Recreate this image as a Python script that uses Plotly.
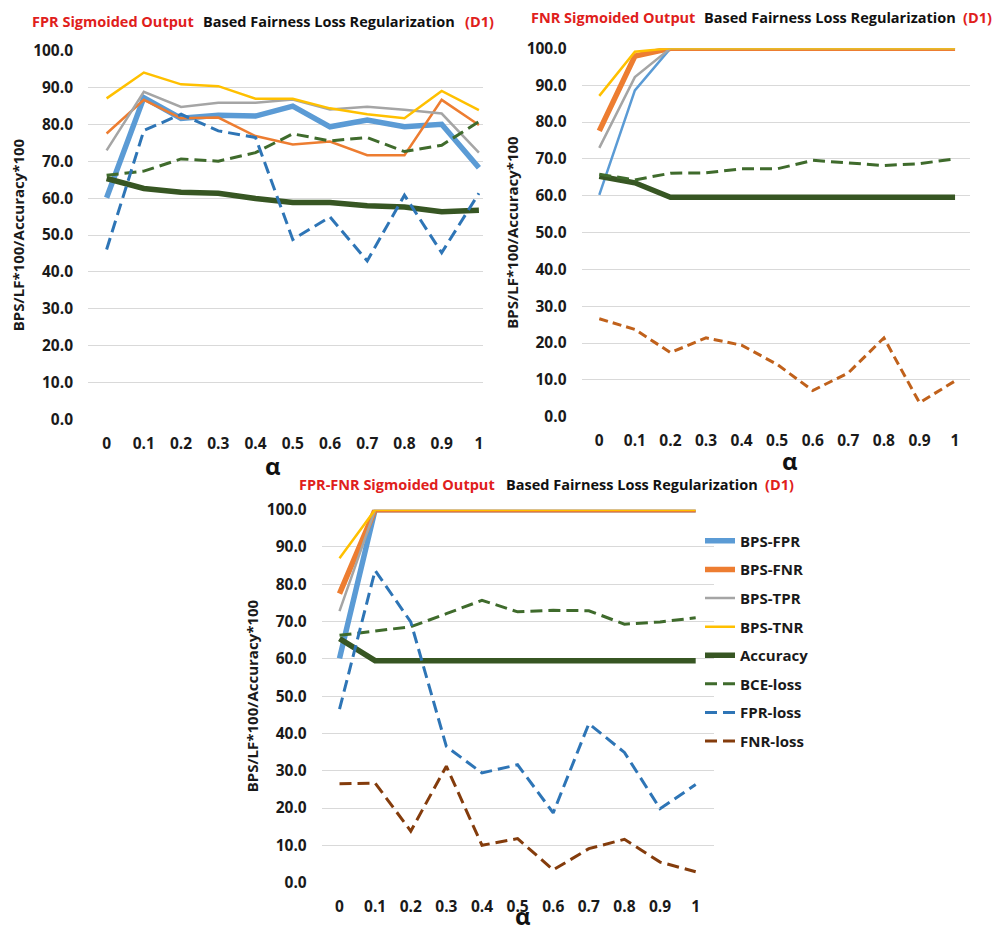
import plotly.graph_objects as go

# ---------------- data ----------------
alpha_labels = ["0", "0.1", "0.2", "0.3", "0.4", "0.5", "0.6", "0.7", "0.8", "0.9", "1"]
y_ticks = [0, 10, 20, 30, 40, 50, 60, 70, 80, 90, 100]

# Chart 1: FPR sigmoided output
c1_bps_fpr = [60.1, 87.2, 81.6, 82.4, 82.2, 84.9, 79.3, 81.1, 79.3, 80.0, 68.2]
c1_bps_fnr = [77.5, 86.6, 81.6, 81.8, 76.8, 74.5, 75.3, 71.6, 71.6, 86.6, 79.8]
c1_bps_tpr = [72.9, 88.8, 84.7, 85.8, 85.8, 86.7, 84.0, 84.7, 83.9, 82.9, 72.3]
c1_bps_tnr = [87.0, 94.0, 90.8, 90.3, 86.9, 86.9, 84.3, 82.7, 81.6, 89.0, 83.8]
c1_accuracy = [65.3, 62.6, 61.6, 61.3, 59.9, 58.8, 58.8, 57.9, 57.6, 56.3, 56.7]
c1_bce_loss = [66.2, 67.3, 70.6, 70.0, 72.3, 77.4, 75.5, 76.4, 72.6, 74.3, 80.7]
c1_fpr_loss = [46.1, 78.3, 82.7, 78.2, 76.4, 48.8, 54.9, 43.0, 60.8, 45.2, 61.3]

# Chart 2: FNR sigmoided output
c2_bps_fpr = [60.2, 88.6, 100, 100, 100, 100, 100, 100, 100, 100, 100]
c2_bps_fnr = [77.6, 97.9, 100, 100, 100, 100, 100, 100, 100, 100, 100]
c2_bps_tpr = [73.0, 92.2, 100, 100, 100, 100, 100, 100, 100, 100, 100]
c2_bps_tnr = [87.1, 99.1, 100, 100, 100, 100, 100, 100, 100, 100, 100]
c2_accuracy = [65.3, 63.5, 59.6, 59.6, 59.6, 59.6, 59.6, 59.6, 59.6, 59.6, 59.6]
c2_bce_loss = [65.8, 64.3, 66.1, 66.2, 67.3, 67.3, 69.6, 69.0, 68.2, 68.7, 70.0]
c2_fnr_loss = [26.6, 23.7, 17.4, 21.4, 19.4, 14.2, 7.1, 11.9, 21.4, 3.8, 9.7]

# Chart 3: FPR-FNR sigmoided output
c3_bps_fpr = [60.1, 100, 100, 100, 100, 100, 100, 100, 100, 100, 100]
c3_bps_fnr = [77.5, 100, 100, 100, 100, 100, 100, 100, 100, 100, 100]
c3_bps_tpr = [72.8, 100, 100, 100, 100, 100, 100, 100, 100, 100, 100]
c3_bps_tnr = [87.0, 100, 100, 100, 100, 100, 100, 100, 100, 100, 100]
c3_accuracy = [65.4, 59.5, 59.5, 59.5, 59.5, 59.5, 59.5, 59.5, 59.5, 59.5, 59.5]
c3_bce_loss = [66.3, 67.4, 68.6, 72.1, 75.7, 72.6, 73.0, 72.9, 69.3, 69.9, 71.0]
c3_fpr_loss = [46.5, 83.7, 69.9, 36.5, 29.4, 31.6, 18.7, 42.6, 34.9, 19.8, 26.3]
c3_fnr_loss = [26.5, 26.7, 13.8, 31.2, 10.0, 11.8, 3.4, 9.1, 11.6, 5.5, 2.9]

# ---------------- styles ----------------
COL = {
    "BPS-FPR": "#5B9BD5",
    "BPS-FNR": "#ED7D31",
    "BPS-TPR": "#A5A5A5",
    "BPS-TNR": "#FFC000",
    "Accuracy": "#375623",
    "BCE-loss": "#3F6B2C",
    "FPR-loss": "#2E75B6",
    "FNR-loss": "#843C0C",
}
FNR_LOSS_C2 = "#C0611B"
DASH = "12px,6px"
FONT = "Open Sans"
W = 993
H = 932

fig = go.Figure()


def add(name, y, ax, width, dash=None, legend=False, color=None):
    fig.add_trace(go.Scatter(
        x=alpha_labels, y=y, mode="lines", name=name,
        line=dict(color=color or COL[name], width=width, dash=dash or "solid"),
        xaxis="x" + ax, yaxis="y" + ax,
        showlegend=legend, legendgroup=name,
        hoverinfo="x+y+name",
    ))


# chart 1
add("BPS-FPR", c1_bps_fpr, "", 5.5)
add("BPS-FNR", c1_bps_fnr, "", 2.5)
add("BPS-TPR", c1_bps_tpr, "", 2.5)
add("BPS-TNR", c1_bps_tnr, "", 2.5)
add("Accuracy", c1_accuracy, "", 5.5)
add("BCE-loss", c1_bce_loss, "", 3, DASH)
add("FPR-loss", c1_fpr_loss, "", 3, DASH)

# chart 2
add("BPS-FPR", c2_bps_fpr, "2", 2.5)
add("BPS-FNR", c2_bps_fnr, "2", 5.5)
add("BPS-TPR", c2_bps_tpr, "2", 2.5)
add("BPS-TNR", c2_bps_tnr, "2", 2.5)
add("Accuracy", c2_accuracy, "2", 5.5)
add("BCE-loss", c2_bce_loss, "2", 3, DASH)
add("FNR-loss", c2_fnr_loss, "2", 3, "9px,5px", color=FNR_LOSS_C2)

# chart 3
add("BPS-FPR", c3_bps_fpr, "3", 5.5, legend=True)
add("BPS-FNR", c3_bps_fnr, "3", 5.5, legend=True)
add("BPS-TPR", c3_bps_tpr, "3", 2.5, legend=True)
add("BPS-TNR", c3_bps_tnr, "3", 2.5, legend=True)
add("Accuracy", c3_accuracy, "3", 5.5, legend=True)
add("BCE-loss", c3_bce_loss, "3", 3, DASH, legend=True)
add("FPR-loss", c3_fpr_loss, "3", 3, DASH, legend=True)
add("FNR-loss", c3_fnr_loss, "3", 3, DASH, legend=True)


# pixel helpers (target pixel positions in the photographed page)
Y_OFF = 9.5
Y_SCALE = 0.98


def px_x(p):
    return p / W


def px_y(p):
    return 1 - ((p - Y_OFF) / Y_SCALE) / H


tickfont = dict(family=FONT, size=15.5, color="#1a1a1a", weight="bold")
ytitle = dict(text="BPS/LF*100/Accuracy*100",
              font=dict(family=FONT, size=15, color="#1a1a1a", weight="bold"),
              standoff=4)


def xaxis(x0, x1, anchor, rmax):
    return dict(domain=[px_x(x0), px_x(x1)], anchor=anchor, type="category",
                range=[-0.5, rmax], showgrid=False, showline=False, zeroline=False,
                ticks="", tickfont=tickfont, ticklabelstandoff=13, fixedrange=True)


def yaxis(y_bottom, y_top, anchor):
    return dict(domain=[px_y(y_bottom), px_y(y_top)], anchor=anchor,
                range=[0, 100], tickvals=y_ticks,
                ticktext=[f"{v:.1f}" for v in y_ticks],
                showgrid=True, gridcolor="#D9D9D9", gridwidth=1,
                zeroline=False, showline=False, ticks="", tickfont=tickfont,
                ticklabelstandoff=14, title=ytitle, fixedrange=True)


layout = dict(
    width=W, height=H,
    margin=dict(l=0, r=0, t=0, b=0),
    paper_bgcolor="white", plot_bgcolor="white",
    xaxis=xaxis(88, 483, "y", 10.11),
    yaxis=yaxis(418.7, 48, "x"),
    xaxis2=xaxis(581.5, 970, "y2", 10.42),
    yaxis2=yaxis(415.7, 46, "x2"),
    xaxis3=xaxis(321.7, 713.5, "y3", 10.5),
    yaxis3=yaxis(883.3, 509, "x3"),
    legend=dict(x=px_x(700), y=px_y(524), xanchor="left", yanchor="top",
                traceorder="grouped", tracegroupgap=6.1,
                font=dict(family=FONT, size=15, color="#1a1a1a", weight="bold"),
                bgcolor="rgba(0,0,0,0)", itemwidth=30),
    showlegend=True,
)
fig.update_layout(**layout)

RED = "#E0201B"
BLACK = "#111111"
tfont = dict(family=FONT, size=14.5, weight="bold")


def title_parts(y, x_red, x_black, x_d1, red_text):
    for txt, xx, col in [(red_text, x_red, RED),
                         ("Based Fairness Loss Regularization", x_black, BLACK),
                         ("(D1)", x_d1, RED)]:
        fig.add_annotation(text=txt, x=px_x(xx), y=px_y(y), xref="paper", yref="paper",
                           xanchor="left", yanchor="middle", showarrow=False,
                           font=dict(color=col, **tfont))


title_parts(19, 30, 201, 463, "FPR Sigmoided Output")
title_parts(15, 529, 702, 961, "FNR Sigmoided Output")
title_parts(484, 297, 504, 763, "FPR-FNR Sigmoided Output")

for ax_x, ax_y in [(273, 465), (790, 460), (523, 916)]:
    fig.add_annotation(text="α", x=px_x(ax_x), y=px_y(ax_y), xref="paper", yref="paper",
                       xanchor="center", yanchor="middle", showarrow=False,
                       font=dict(family=FONT, size=24, color="#111111", weight="bold"))

fig.write_html("out.html")
